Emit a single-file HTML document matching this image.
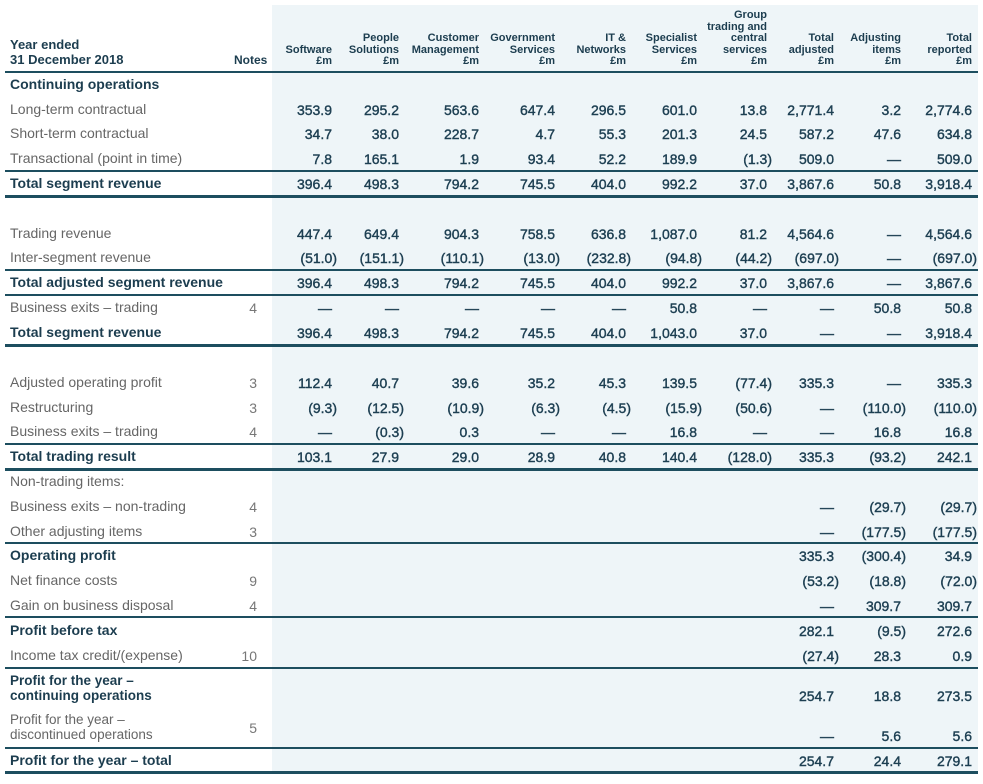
<!DOCTYPE html>
<html><head><meta charset="utf-8">
<style>
html,body{margin:0;padding:0;background:#fff;}
#wrap{position:relative;width:983px;height:784px;overflow:hidden;font-family:"Liberation Sans",sans-serif;}
#shade{position:absolute;left:272px;top:5px;width:706px;height:768px;background:#eef5f8;}
.hd{position:absolute;font-size:11px;font-weight:bold;color:#1c3d4f;text-align:right;line-height:11.6px;white-space:nowrap;}
.lab{position:absolute;left:10px;font-size:14px;color:#666;white-space:nowrap;line-height:15px;}
.lab.b{font-weight:bold;color:#1c3d4f;}
.lab.two{font-size:13.5px;line-height:14.5px;}
.note{position:absolute;font-size:14px;color:#777;text-align:right;width:30px;left:227px;}
.num{position:absolute;font-size:14px;color:#1d3f52;text-align:right;white-space:nowrap;-webkit-text-stroke:0.4px #1d3f52;}
.ln{position:absolute;left:5px;width:973px;background:#1d4e5f;}
</style></head>
<body>
<div id="wrap">
<div id="shade"></div>
<div class="hd" style="left:10px;top:37px;text-align:left;font-size:13px;line-height:15px;">Year ended<br>31 December 2018</div>
<div class="hd" style="left:234px;top:55px;font-size:12px;">Notes</div>
</div>
<script>
const headers=[["Software","£m"],["People","Solutions","£m"],["Customer","Management","£m"],["Government","Services","£m"],["IT &","Networks","£m"],["Specialist","Services","£m"],["Group","trading and","central","services","£m"],["Total","adjusted","£m"],["Adjusting","items","£m"],["Total","reported","£m"]];
const colRight=[332,399,479,555,626,697,767,834,901,972];
const D="—";
const labels=["Continuing operations","Long-term contractual","Short-term contractual","Transactional (point in time)","Total segment revenue","Trading revenue","Inter-segment revenue","Total adjusted segment revenue","Business exits – trading","Total segment revenue","Adjusted operating profit","Restructuring","Business exits – trading","Total trading result","Non-trading items:","Business exits – non-trading","Other adjusting items","Operating profit","Net finance costs","Gain on business disposal","Profit before tax","Income tax credit/(expense)","Profit for the year –<br>continuing operations","Profit for the year –<br>discontinued operations","Profit for the year – total"];
const notes=["","","","","","","","","4","","3","3","4","","","4","3","","9","4","","10","","5",""];
const bolds=[1,0,0,0,1,0,0,1,0,1,0,0,0,1,0,0,0,1,0,0,1,0,1,0,1];
const rowY=[85,110,134,159,184,234,258,283,308,333,383,408,432,457,482,507,532,556,581,606,631,656,689,728,761];
const numY=[85,110,134,159,184,234,258,283,308,333,383,408,432,457,482,507,532,556,581,606,631,656,696,736,761];
const values=[
[],
["353.9","295.2","563.6","647.4","296.5","601.0","13.8","2,771.4","3.2","2,774.6"],
["34.7","38.0","228.7","4.7","55.3","201.3","24.5","587.2","47.6","634.8"],
["7.8","165.1","1.9","93.4","52.2","189.9","(1.3)","509.0",D,"509.0"],
["396.4","498.3","794.2","745.5","404.0","992.2","37.0","3,867.6","50.8","3,918.4"],
["447.4","649.4","904.3","758.5","636.8","1,087.0","81.2","4,564.6",D,"4,564.6"],
["(51.0)","(151.1)","(110.1)","(13.0)","(232.8)","(94.8)","(44.2)","(697.0)",D,"(697.0)"],
["396.4","498.3","794.2","745.5","404.0","992.2","37.0","3,867.6",D,"3,867.6"],
[D,D,D,D,D,"50.8",D,D,"50.8","50.8"],
["396.4","498.3","794.2","745.5","404.0","1,043.0","37.0",D,D,"3,918.4"],
["112.4","40.7","39.6","35.2","45.3","139.5","(77.4)","335.3",D,"335.3"],
["(9.3)","(12.5)","(10.9)","(6.3)","(4.5)","(15.9)","(50.6)",D,"(110.0)","(110.0)"],
[D,"(0.3)","0.3",D,D,"16.8",D,D,"16.8","16.8"],
["103.1","27.9","29.0","28.9","40.8","140.4","(128.0)","335.3","(93.2)","242.1"],
[],
["","","","","","","",D,"(29.7)","(29.7)"],
["","","","","","","",D,"(177.5)","(177.5)"],
["","","","","","","","335.3","(300.4)","34.9"],
["","","","","","","","(53.2)","(18.8)","(72.0)"],
["","","","","","","",D,"309.7","309.7"],
["","","","","","","","282.1","(9.5)","272.6"],
["","","","","","","","(27.4)","28.3","0.9"],
["","","","","","","","254.7","18.8","273.5"],
["","","","","","","",D,"5.6","5.6"],
["","","","","","","","254.7","24.4","279.1"]
];
const thinLines=[72,171,270,295,444,543,617,668,748];
const thickLines=[196,345,469,772];
const wrap=document.getElementById('wrap');
headers.forEach((h,i)=>{
  const d=document.createElement('div');
  d.className='hd';
  d.innerHTML=h.join('<br>');
  d.style.right=(983-colRight[i])+'px';
  d.style.top=(68-h.length*11.6)+'px';
  
  
  wrap.appendChild(d);
});
thinLines.forEach(y=>{const l=document.createElement('div');l.className='ln';l.style.top=(y-1)+'px';l.style.height='1.5px';


wrap.appendChild(l);});
thickLines.forEach(y=>{const l=document.createElement('div');l.className='ln';l.style.top=(y-1.5)+'px';l.style.height='3px';


wrap.appendChild(l);});
labels.forEach((t,r)=>{
  const two=t.indexOf('<br>')>=0;
  const d=document.createElement('div');
  d.className='lab'+(bolds[r]?' b':'')+(two?' two':'');
  d.innerHTML=t;
  d.style.top=(rowY[r]-(two?15:8))+'px';
  
  
  wrap.appendChild(d);
  if(notes[r]){
    const n=document.createElement('div');n.className='note';n.textContent=notes[r];
    n.style.top=(rowY[r]-8)+'px';
    
    
    wrap.appendChild(n);
  }
  values[r].forEach((v,c)=>{
    if(!v)return;
    const s=document.createElement('div');s.className='num';s.textContent=v;
    const neg=v.charAt(0)==='(';
    s.style.right=(983-colRight[c]-(neg?5:0))+'px';
    s.style.top=(numY[r]-8)+'px';
    
    
    wrap.appendChild(s);
  });
});
</script>
</body></html>
